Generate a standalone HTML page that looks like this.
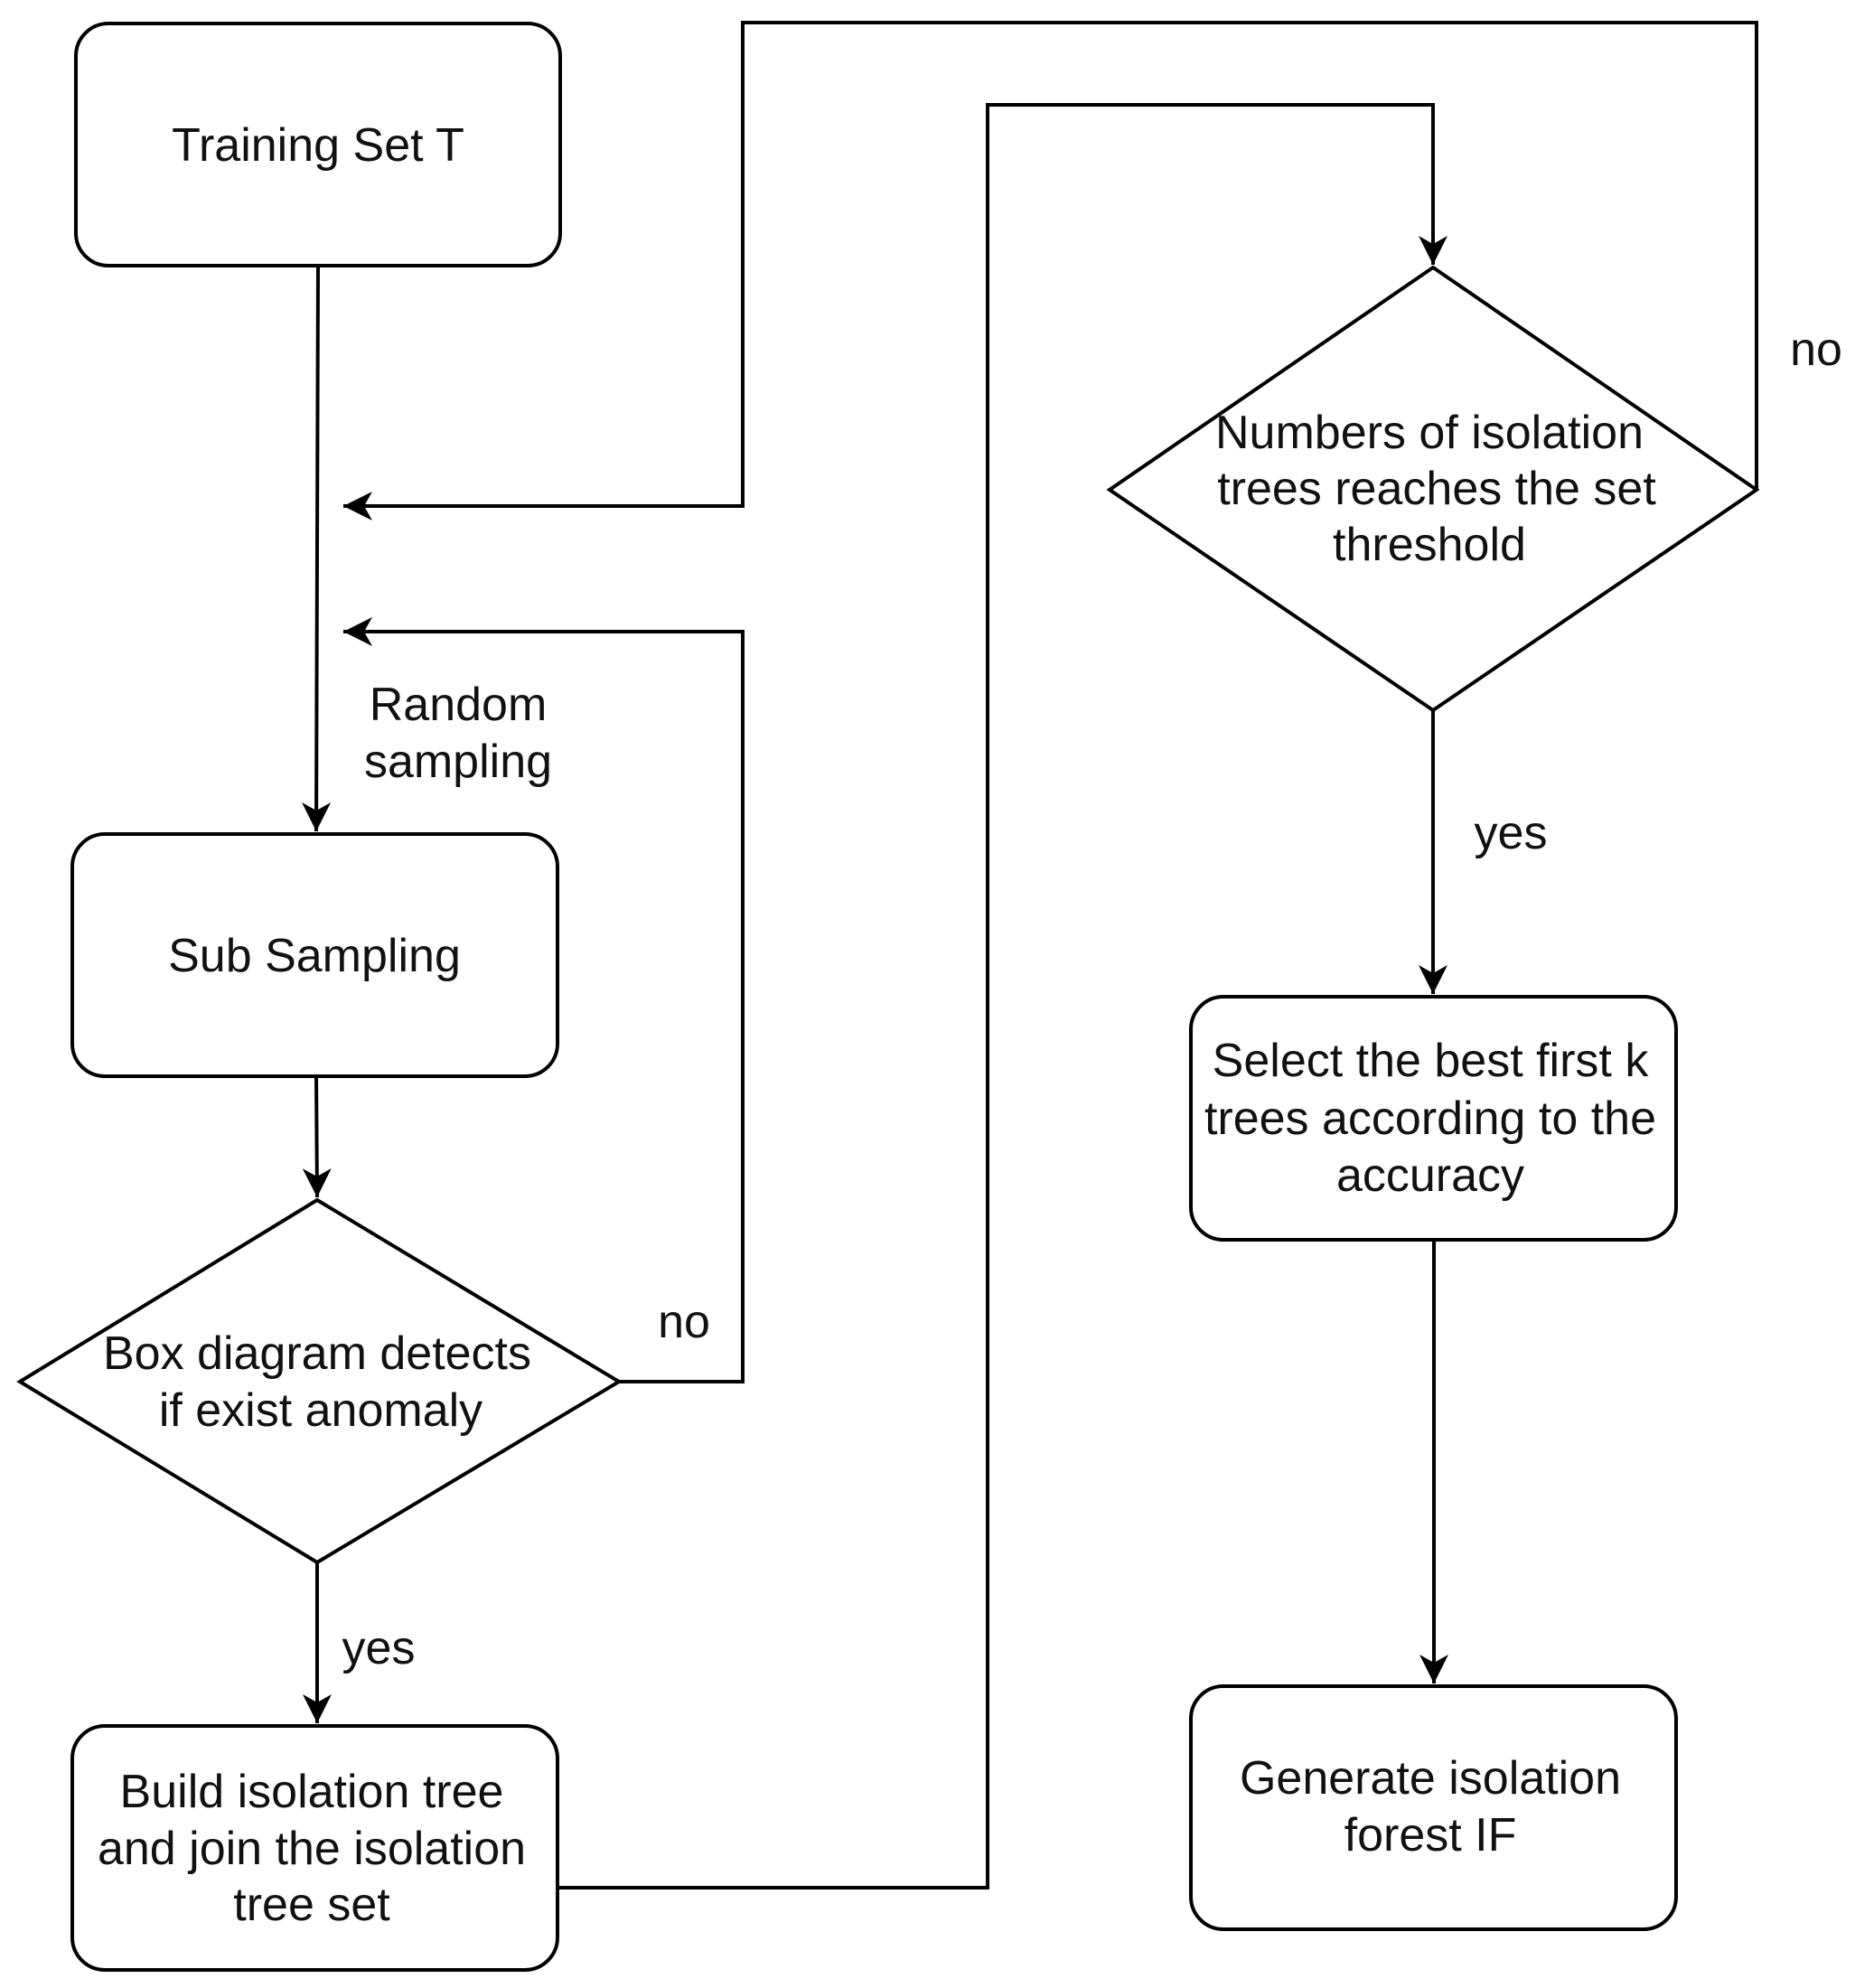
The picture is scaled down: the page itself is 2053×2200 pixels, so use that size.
<!DOCTYPE html>
<html><head><meta charset="utf-8"><style>
html,body{margin:0;padding:0;background:#fff;}
svg{display:block;}
text{font-family:"Liberation Sans",Arial,sans-serif;font-size:52px;fill:#111;text-anchor:middle;}
</style></head><body>
<svg width="2053" height="2200" viewBox="0 0 2053 2200" xmlns="http://www.w3.org/2000/svg">
<defs>
<marker id="a" markerUnits="userSpaceOnUse" markerWidth="40" markerHeight="40" refX="32" refY="16" orient="auto">
<path d="M0,0 L32,16 L0,32 L9,16 Z" fill="#000"/>
</marker>
</defs>
<g fill="none" stroke="#000" stroke-width="4">
<rect x="84" y="26" width="536" height="268" rx="36"/>
<rect x="80" y="923" width="537" height="268" rx="36"/>
<rect x="80" y="1910" width="537" height="270" rx="36"/>
<rect x="1318" y="1103" width="537" height="269" rx="36"/>
<rect x="1318" y="1866" width="537" height="269" rx="36"/>
<polygon points="351,1328 685,1529 351,1729 22,1529"/>
<polygon points="1586,296 1944,542 1586,786 1228,542"/>
<line x1="352" y1="294" x2="350" y2="920" marker-end="url(#a)"/>
<line x1="350" y1="1191" x2="351" y2="1325" marker-end="url(#a)"/>
<line x1="351" y1="1729" x2="351" y2="1907" marker-end="url(#a)"/>
<polyline points="685,1529 822,1529 822,699 380,699" marker-end="url(#a)"/>
<polyline points="1944,542 1944,25 822,25 822,560 380,560" marker-end="url(#a)"/>
<polyline points="617,2089 1093,2089 1093,116 1586,116 1586,293" marker-end="url(#a)"/>
<line x1="1586" y1="786" x2="1586" y2="1100" marker-end="url(#a)"/>
<line x1="1587" y1="1372" x2="1587" y2="1863" marker-end="url(#a)"/>
</g>
<text x="352" y="178">Training Set T</text>
<text x="348" y="1075">Sub Sampling</text>
<text x="507" y="797">Random</text>
<text x="507" y="860">sampling</text>
<text x="351" y="1515">Box diagram detects</text>
<text x="355" y="1578">if exist anomaly</text>
<text x="757" y="1480">no</text>
<text x="419" y="1841">yes</text>
<text x="345" y="2000">Build isolation tree</text>
<text x="345" y="2063">and join the isolation</text>
<text x="345" y="2125">tree set</text>
<text x="1582" y="496">Numbers of isolation</text>
<text x="1590" y="558">trees reaches the set</text>
<text x="1582" y="620">threshold</text>
<text x="2010" y="404">no</text>
<text x="1672" y="939">yes</text>
<text x="1583" y="1191">Select the best first k</text>
<text x="1583" y="1255">trees according to the</text>
<text x="1583" y="1318">accuracy</text>
<text x="1583" y="1985">Generate isolation</text>
<text x="1583" y="2048">forest IF</text>
</svg>
</body></html>
